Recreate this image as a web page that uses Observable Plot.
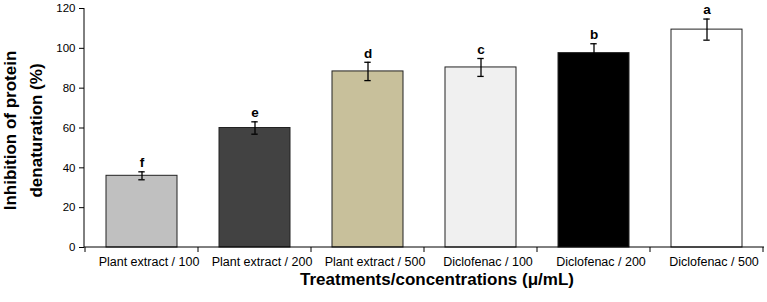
<!DOCTYPE html>
<html>
<head>
<meta charset="utf-8">
<script src="https://cdn.jsdelivr.net/npm/d3@7"></script>
<script src="https://cdn.jsdelivr.net/npm/@observablehq/plot@0.6"></script>
<style>
  html, body { margin: 0; padding: 0; background: #fff; }
  #chart { width: 767px; height: 302px; }
</style>
</head>
<body>
<div id="chart"></div>
<script>
const categories = ["Plant extract / 100", "Plant extract / 200", "Plant extract / 500", "Diclofenac / 100", "Diclofenac / 200", "Diclofenac / 500"];
const values = [36.0, 60.0, 88.4, 90.4, 97.6, 109.4];
const errors = [2.0, 3.1, 4.6, 4.5, 4.7, 5.3];
const letters = ["f", "e", "d", "c", "b", "a"];
const fills = ["#c0c0c0", "#424242", "#c8c09b", "#f0f0f0", "#000000", "#ffffff"];
const yTicks = [0, 20, 40, 60, 80, 100, 120];
const yTitle = ["Inhibition of protein", "denaturation (%)"];
const xTitle = "Treatments/concentrations (\u03bc/mL)";

const data = categories.map((c, i) => ({cat: c, v: values[i], e: errors[i], letter: letters[i], fill: fills[i]}));

const font = "'Liberation Sans', Arial, Helvetica, sans-serif";

function decorations(index, scales, values_, dims) {
  const {x, y} = scales;
  const {width, height, marginLeft, marginRight, marginTop, marginBottom} = dims;
  const g = d3.create("svg:g").attr("font-family", font);
  const step = x.step();
  const bw = x.bandwidth();
  const y0 = y(0);
  // axis lines
  g.append("line").attr("x1", marginLeft).attr("x2", marginLeft)
    .attr("y1", y(yTicks[yTicks.length - 1])).attr("y2", y0)
    .attr("stroke", "#000").attr("stroke-width", 1);
  g.append("line").attr("x1", marginLeft).attr("x2", width - marginRight)
    .attr("y1", y0).attr("y2", y0)
    .attr("stroke", "#000").attr("stroke-width", 1);
  // separators between categories
  const start = x(categories[0]) - (step - bw) / 2;
  for (let i = 0; i <= categories.length; i++) {
    const xs = start + i * step;
    g.append("line").attr("x1", xs).attr("x2", xs).attr("y1", y0).attr("y2", y0 + 5)
      .attr("stroke", "#000").attr("stroke-width", 1);
  }
  // y title
  const cy = (marginTop + height - marginBottom) / 2 + 3;
  [15.5, 41.5].forEach((bx, i) => {
    g.append("text").attr("transform", `translate(${bx},${cy}) rotate(-90)`)
      .attr("text-anchor", "middle").attr("font-size", 17).attr("font-weight", "bold")
      .attr("fill", "#000").text(yTitle[i]);
  });
  // x title
  g.append("text").attr("x", (marginLeft + width - marginRight) / 2 + 13).attr("y", 285)
    .attr("text-anchor", "middle").attr("font-size", 17).attr("font-weight", "bold")
    .attr("fill", "#000").text(xTitle);
  return g.node();
}

const chart = Plot.plot({
  width: 767,
  height: 302,
  marginLeft: 84,
  marginRight: 3,
  marginTop: 8,
  marginBottom: 55,
  style: {fontFamily: font, background: "#fff", color: "#000"},
  x: {domain: categories, paddingInner: 0.376, paddingOuter: 0.188, label: null},
  y: {domain: [0, 120], label: null},
  color: {type: "identity"},
  marks: [
    Plot.barY(data, {x: "cat", y: "v", fill: "fill", stroke: "#222", strokeWidth: 1}),
    Plot.ruleX(data, {x: "cat", y1: d => d.v - d.e, y2: d => d.v + d.e, stroke: "#000", strokeWidth: 1.3}),
    Plot.tickY(data, {x: "cat", y: d => d.v + d.e, stroke: "#000", strokeWidth: 1.3, insetLeft: 32.3, insetRight: 32.3}),
    Plot.tickY(data, {x: "cat", y: d => d.v - d.e, stroke: "#000", strokeWidth: 1.3, insetLeft: 32.3, insetRight: 32.3}),
    Plot.text(data, {x: "cat", y: d => d.v + d.e, text: "letter", dy: -9, fontSize: 13.5, fontWeight: "bold", fill: "#000"}),
    Plot.axisY({ticks: yTicks, tickSize: 5, tickPadding: 4, fontSize: 11.5, label: null}),
    Plot.axisX({tickSize: 0, tickPadding: 10, fontSize: 12.5, dx: 7, label: null}),
    decorations
  ]
});
document.getElementById("chart").appendChild(chart);
</script>
</body>
</html>
